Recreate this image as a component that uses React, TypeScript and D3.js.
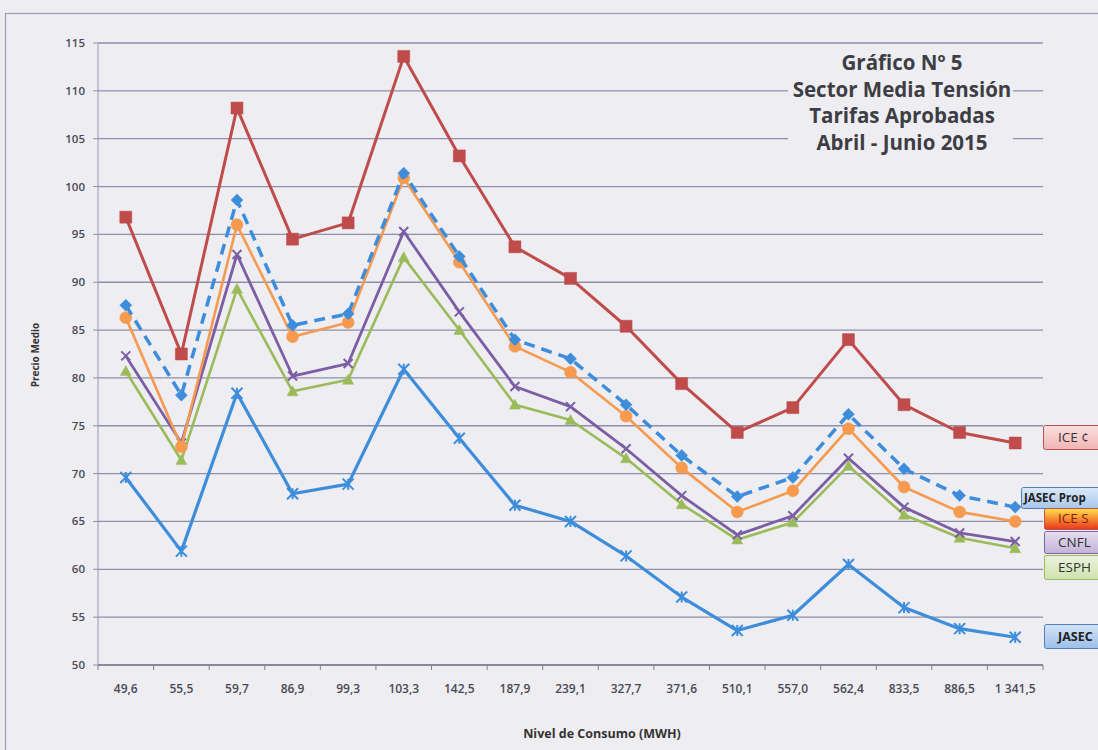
import React from "react";
import * as d3 from "d3";

const categories = ["49,6","55,5","59,7","86,9","99,3","103,3","142,5","187,9","239,1","327,7","371,6","510,1","557,0","562,4","833,5","886,5","1 341,5"];
const iceC = [96.8,82.5,108.2,94.5,96.2,113.6,103.2,93.7,90.4,85.4,79.4,74.3,76.9,84.0,77.2,74.3,73.2];
const jasecProp = [87.6,78.2,98.6,85.5,86.7,101.4,92.7,84.0,82.0,77.2,71.9,67.6,69.6,76.2,70.5,67.7,66.5];
const iceS = [86.3,72.8,96.0,84.3,85.8,100.9,92.1,83.3,80.6,76.0,70.6,66.0,68.2,74.7,68.6,66.0,65.0];
const cnfl = [82.3,73.2,92.9,80.2,81.5,95.3,86.9,79.1,77.0,72.6,67.7,63.6,65.6,71.6,66.5,63.8,62.9];
const esph = [80.7,71.4,89.3,78.6,79.8,92.6,85.0,77.2,75.6,71.6,66.8,63.1,64.9,70.8,65.7,63.3,62.2];
const jasec = [69.6,61.9,78.4,67.9,68.9,80.9,73.7,66.7,65.0,61.4,57.1,53.6,55.2,60.5,56.0,53.8,52.9];
const yTicks = [50,55,60,65,70,75,80,85,90,95,100,105,110,115];
const titleLines = ["Gráfico Nº 5","Sector Media Tensión","Tarifas Aprobadas","Abril - Junio 2015"];

const W = 1098, H = 750;
const plot = { left: 98, right: 1043, top: 43, bottom: 665 };
const font = "'Open Sans', Lato, sans-serif";

type Series = { name: string; values: number[]; color: string; width: number; dash?: string; marker: string; size: number };
const series: Series[] = [
  { name: "ICE ¢", values: iceC, color: "#bf4b4b", width: 3, marker: "square", size: 12 },
  { name: "ESPH", values: esph, color: "#9bbb59", width: 2.6, marker: "triangle", size: 11 },
  { name: "CNFL", values: cnfl, color: "#7b5ea3", width: 2.8, marker: "x", size: 9 },
  { name: "ICE S", values: iceS, color: "#f59a4e", width: 2.6, marker: "circle", size: 12 },
  { name: "JASEC Prop", values: jasecProp, color: "#3d8ddb", width: 3.5, dash: "11,7", marker: "diamond", size: 12 },
  { name: "JASEC", values: jasec, color: "#3d8ddb", width: 3.2, marker: "asterisk", size: 11 },
];

const legendBoxes = [
  { label: "ICE ¢", x: 1043, y: 425, h: 24, tx: 15, fs: 13.5, fw: 400, fill: ["#fbe0e0", "#f0b4b5"], stroke: "#c0504d", text: "#333" },
  { label: "JASEC Prop", x: 1021, y: 487, h: 21, tx: 3, fs: 11.5, fw: 700, fill: ["#dbe8f8", "#a9c6ec"], stroke: "#4f81bd", text: "#222" },
  { label: "ICE S", x: 1044, y: 508, h: 21, tx: 14, fs: 13.5, fw: 400, fill: ["#ffe14a", "#e8341c"], stroke: "#c0504d", text: "#8b1a10" },
  { label: "CNFL", x: 1044, y: 531, h: 22, tx: 14, fs: 13.5, fw: 400, fill: ["#e6def0", "#c2b3d8"], stroke: "#8064a2", text: "#333" },
  { label: "ESPH", x: 1044, y: 555, h: 24, tx: 14, fs: 13.5, fw: 400, fill: ["#ecf3dd", "#cfe1ae"], stroke: "#9bbb59", text: "#333" },
  { label: "JASEC", x: 1044, y: 624, h: 24, tx: 14, fs: 12.5, fw: 700, fill: ["#d4e4f8", "#9dbfea"], stroke: "#4f81bd", text: "#222" },
];

function markerPath(type: string, s: number): string {
  const h = s / 2;
  switch (type) {
    case "square": return `M${-h},${-h}H${h}V${h}H${-h}Z`;
    case "diamond": return `M0,${-h}L${h},0L0,${h}L${-h},0Z`;
    case "triangle": return `M0,${-h}L${h},${h * 0.8}L${-h},${h * 0.8}Z`;
    case "circle": return `M${h},0A${h},${h} 0 1,1 ${-h},0A${h},${h} 0 1,1 ${h},0Z`;
    case "x": return `M${-h},${-h}L${h},${h}M${-h},${h}L${h},${-h}`;
    case "asterisk": return `M${-h},${-h}L${h},${h}M${-h},${h}L${h},${-h}M0,${-h}L0,${h}`;
  }
  return "";
}

export default function App() {
  const x = d3.scalePoint<string>().domain(categories).range([plot.left, plot.right]).padding(0.5);
  const y = d3.scaleLinear().domain([50, 115]).range([plot.bottom, plot.top]);
  const step = x.step();
  const line = (vals: number[]) =>
    d3.line<number>().x((_, i) => x(categories[i]) as number).y((v) => y(v))(vals) || "";

  return (
    <svg width={W} height={H} style={{ position: "absolute", left: 0, top: 0, background: "#eeedf2" }} fontFamily={font}>
      <defs>
        {legendBoxes.map((b, i) => (
          <linearGradient key={i} id={`lg${i}`} x1="0" y1="0" x2="0" y2="1">
            <stop offset="0" stopColor={b.fill[0]} />
            <stop offset="1" stopColor={b.fill[1]} />
          </linearGradient>
        ))}
      </defs>
      <rect x={0} y={0} width={W} height={H} fill="#eeedf2" />
      <rect x={5.5} y={13.5} width={1120} height={760} fill="none" stroke="#9aa0b0" strokeWidth={1.2} />
      {yTicks.map((t) => (
        <line key={t} x1={plot.left} x2={plot.right} y1={y(t)} y2={y(t)} stroke="#8c90aa" strokeWidth={1.3} />
      ))}
      <line x1={plot.left} x2={plot.left} y1={plot.top} y2={plot.bottom} stroke="#9a9cb0" strokeWidth={1} />
      {yTicks.map((t) => (
        <g key={t}>
          <line x1={plot.left - 5} x2={plot.left} y1={y(t)} y2={y(t)} stroke="#8c90aa" />
          <text x={plot.left - 13} y={y(t)} dy="0.35em" textAnchor="end" fontSize={11.5} fill="#4a4a55" fontWeight={600}>{t}</text>
        </g>
      ))}
      <line x1={plot.left} x2={plot.right} y1={plot.bottom} y2={plot.bottom} stroke="#7f8090" strokeWidth={1.3} />
      {categories.map((c, i) => (
        <g key={c}>
          <line x1={(x(c) as number) - step / 2} x2={(x(c) as number) - step / 2} y1={plot.bottom} y2={plot.bottom + 5} stroke="#7f8090" />
          {i === categories.length - 1 && (
            <line x1={(x(c) as number) + step / 2} x2={(x(c) as number) + step / 2} y1={plot.bottom} y2={plot.bottom + 5} stroke="#7f8090" />
          )}
          <text x={x(c)} y={693} textAnchor="middle" fontSize={12} fill="#4a4a55" fontWeight={600}>{c}</text>
        </g>
      ))}
      <text x={602} y={738} textAnchor="middle" fontSize={12.5} fontWeight={700} fill="#333">Nivel de Consumo (MWH)</text>
      <text transform={`translate(39,${355}) rotate(-90)`} textAnchor="middle" fontSize={10} fontWeight={700} fill="#333">Precio Medio</text>
      <rect x={788} y={48} width={225} height={106} fill="#eeedf2" />
      {titleLines.map((t, i) => (
        <text key={i} x={902} y={70 + i * 26.5} textAnchor="middle" fontSize={20.5} fontWeight={700} fill="#3d3d45">{t}</text>
      ))}
      {series.map((s) => (
        <g key={s.name}>
          <path d={line(s.values)} fill="none" stroke={s.color} strokeWidth={s.width} strokeDasharray={s.dash} strokeLinejoin="round" />
          {s.values.map((v, i) => {
            const cx = x(categories[i]) as number;
            const cy = y(v);
            const open = s.marker === "x" || s.marker === "asterisk";
            return (
              <path key={i} transform={`translate(${cx},${cy})`} d={markerPath(s.marker, s.size)}
                fill={open ? "none" : s.color} stroke={s.color} strokeWidth={open ? 2 : 0.5} />
            );
          })}
        </g>
      ))}
      {legendBoxes.map((b, i) => (
        <g key={i}>
          <rect x={b.x + 0.5} y={b.y + 0.5} width={140} height={b.h} rx={2} fill={`url(#lg${i})`} stroke={b.stroke} strokeWidth={1} />
          <text x={b.x + b.tx} y={b.y + b.h / 2} dy="0.36em" fontSize={b.fs} fontWeight={b.fw} fill={b.text}>{b.label}</text>
        </g>
      ))}
    </svg>
  );
}
